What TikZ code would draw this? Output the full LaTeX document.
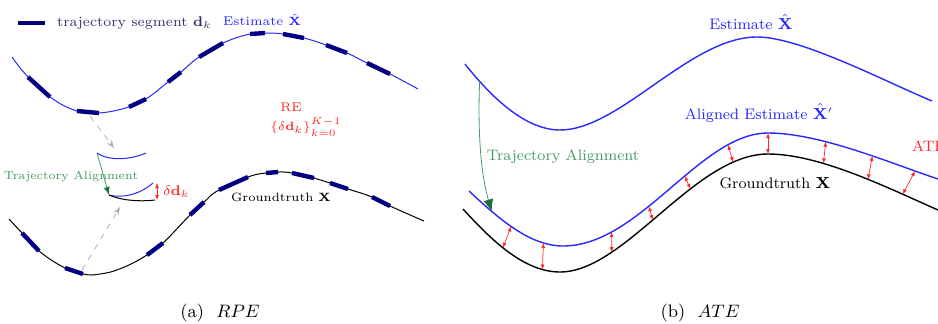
\documentclass[tikz,border=0pt]{standalone}
\usetikzlibrary{arrows.meta}

\definecolor{segnavy}{RGB}{0,0,128}
\definecolor{estblue}{RGB}{40,40,255}
\definecolor{errred}{RGB}{255,40,40}
\definecolor{alignGreen}{RGB}{70,155,100}
\definecolor{darkGreen}{RGB}{30,110,60}
\definecolor{legendtext}{RGB}{50,50,110}

\begin{document}
\begin{tikzpicture}[x=0.5pt, y=-0.5pt,
    est/.style={estblue, line width=0.5pt},
    gt/.style={black, line width=0.5pt},
    seg/.style={segnavy, line width=2.2pt},
    err/.style={errred, line width=0.35pt, {Latex[length=2.5pt,width=2pt]}-{Latex[length=2.5pt,width=2pt]}},
    align/.style={alignGreen, line width=0.4pt, -{Latex[length=4pt,width=3pt,color=darkGreen]}},
    ghost/.style={black!30, dashed, line width=0.4pt, -{Stealth[length=4pt,width=3pt]}},
    small/.style={font=\fontsize{6.3}{7.5}\selectfont},
    mid/.style={font=\fontsize{7.6}{9}\selectfont}]
    \useasboundingbox (0,0) rectangle (938,323);

    % ---- (a) RPE ----
    % Legend
    \coordinate (legA) at (18,23);
    \coordinate (legB) at (45,23);
    \draw[seg] (legA) -- (legB);
    \node[font=\fontsize{7}{8}\selectfont, legendtext, anchor=west] (legtxt) at (50,23) {trajectory segment $\mathbf{d}_k$};

    % Estimate with its segments
    \draw[est] plot[smooth, tension=0.8] coordinates {(12,57) (28,77) (50,97) (77,111) (99,113) (129,107) (146,99) (168,82) (181,72) (199,57) (223,43) (250,34) (265,33) (283,34) (304,38) (326,45) (347,53) (367,63) (390,74) (418,89)};
    \foreach \ax/\ay/\bx/\by in {28/77/50/97, 77/111/99/113, 129/107/146/99, 168/82/181/72, 199/57/223/43, 250/34/265/33, 283/34/304/38, 326/45/347/53, 367/63/390/74}
        \draw[seg] (\ax,\ay) -- (\bx,\by);
    \node[small, estblue] (estA) at (262,20) {Estimate $\hat{\mathbf{X}}$};

    % Groundtruth with its segments
    \draw[gt] plot[smooth, tension=0.8] coordinates {(9,219) (22,233) (39,251) (65,268) (83,274) (100,274) (122,268) (147,255) (163,243) (190,215) (204,202) (219,190) (248,177) (266,173) (278,172) (292,173) (314,178) (330,183) (348,189) (372,197) (390,206) (424,221)};
    \foreach \ax/\ay/\bx/\by in {22/233/39/251, 65/268/83/274, 147/255/163/243, 190/215/204/202, 219/190/248/177, 266/173/278/172, 292/173/314/178, 330/183/348/189, 372/197/390/206}
        \draw[seg] (\ax,\ay) -- (\bx,\by);
    \node[font=\fontsize{6}{7}\selectfont] (gtA) at (281,197) {Groundtruth $\mathbf{X}$};

    % Relative error
    \node[small, errred] (re) at (291,107) {RE};
    \node[font=\fontsize{6}{7}\selectfont, errred] (reSet) at (306,127) {$\{\delta\mathbf{d}_k\}_{k=0}^{K-1}$};

    % Picked segments
    \coordinate (pickEst) at (90,116);
    \coordinate (pieceEst) at (114,148);
    \draw[ghost] (pickEst) -- (pieceEst);
    \coordinate (pickGt) at (82,270);
    \coordinate (pieceGt) at (120,207);
    \draw[ghost] (pickGt) -- (pieceGt);

    % Alignment of one segment
    \coordinate (pieceL) at (97,153);
    \coordinate (alignL) at (109,195);
    \draw[est] (pieceL) .. controls (106,160) and (128,161) .. (146,153);
    \draw[est] (alignL) .. controls (120,198) and (138,196) .. (153,183);
    \draw[gt] (alignL) .. controls (120,200) and (138,202) .. (155,200);
    \draw[align] (pieceL) -- (alignL);
    \node[font=\fontsize{5.8}{7}\selectfont, alignGreen] (taA) at (71,177) {Trajectory Alignment};
    \coordinate (dTop) at (157,183);
    \coordinate (dBot) at (157,200);
    \draw[err] (dTop) -- (dBot);
    \node[font=\fontsize{7.5}{9}\selectfont, errred, anchor=west] (dd) at (156,192) {$\delta\mathbf{d}_k$};

    % ---- (b) ATE ----
    % Estimate
    \draw[est, line width=0.7pt] (465,64) .. controls (495,102) and (528,130) .. (560,130) coordinate[pos=0.16] (fromEst)
        .. controls (620,130) and (690,37) .. (757,37)
        .. controls (800,37) and (882,80) .. (932,101);
    \node[mid, estblue] (estB) at (751,22) {Estimate $\hat{\mathbf{X}}$};

    % Aligned estimate
    \draw[est, line width=0.7pt] (469,191) .. controls (499,219) and (530,246) .. (563,246)
            coordinate[pos=0.25] (toAl) coordinate[pos=0.46] (top1) coordinate[pos=0.8] (top2)
        .. controls (640,246) and (700,133) .. (768,133)
            coordinate[pos=0.22] (top3) coordinate[pos=0.4] (top4) coordinate[pos=0.58] (top5)
            coordinate[pos=0.8] (top6) coordinate[pos=1] (top7)
        .. controls (820,133) and (890,163) .. (938,179)
            coordinate[pos=0.34] (top8) coordinate[pos=0.6] (top9) coordinate[pos=0.85] (top10);
    \node[mid, estblue] (alEst) at (759,113) {Aligned Estimate $\hat{\mathbf{X}}'$};

    % Groundtruth
    \draw[gt, line width=0.7pt] (463,209) .. controls (493,242) and (525,272) .. (560,272)
            coordinate[pos=0.43] (bot1) coordinate[pos=0.83] (bot2)
        .. controls (625,272) and (695,154) .. (768,154)
            coordinate[pos=0.26] (bot3) coordinate[pos=0.46] (bot4) coordinate[pos=0.64] (bot5)
            coordinate[pos=0.84] (bot6) coordinate[pos=1] (bot7)
        .. controls (820,154) and (888,188) .. (938,210)
            coordinate[pos=0.33] (bot8) coordinate[pos=0.58] (bot9) coordinate[pos=0.78] (bot10);
    \node[mid] (gtB) at (775,183) {Groundtruth $\mathbf{X}$};

    % Alignment
    \draw[align, -{Latex[length=6pt,width=5pt,color=darkGreen]}] (fromEst) .. controls (477,150) and (484,185) .. (toAl);
    \node[mid, alignGreen] (taB) at (563,157) {Trajectory Alignment};

    % Absolute errors
    \foreach \i in {1,...,10}
        \draw[err] (top\i) -- (bot\i);
    \node[mid, errred, anchor=west] (ate) at (905,146) {ATE};

    % Captions
    \node[font=\fontsize{9}{11}\selectfont] (capA) at (220,313) {(a)~~$RPE$};
    \node[font=\fontsize{9}{11}\selectfont] (capB) at (700,313) {(b)~~$ATE$};
\end{tikzpicture}
\end{document}
